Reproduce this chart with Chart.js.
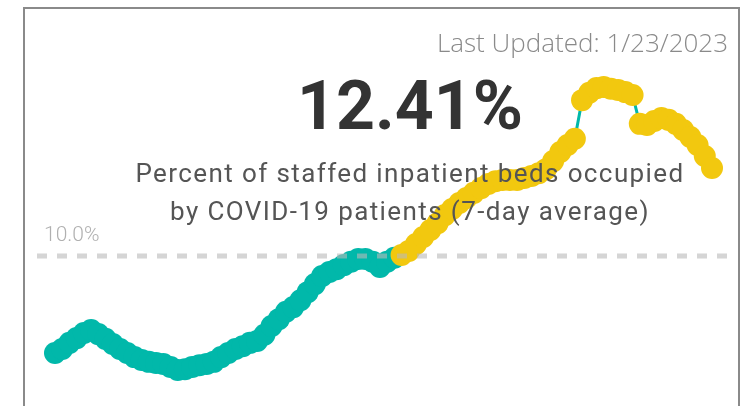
<!DOCTYPE html>
<html>
<head>
<meta charset="utf-8">
<script src="https://cdn.jsdelivr.net/npm/chart.js@4.4.1/dist/chart.umd.min.js"></script>
<style>
  html, body { margin: 0; padding: 0; background: #fff; width: 749px; height: 406px; overflow: hidden; }
  #wrap { position: relative; width: 749px; height: 406px; }
  #frame { position: absolute; left: 23px; top: 7px; width: 717px; height: 460px; border: 2px solid #8a8a8a; box-sizing: border-box; }
  canvas { position: absolute; left: 0; top: 0; }
  .t { position: absolute; white-space: nowrap; line-height: 1; }
  #updated { right: 21px; top: 29px; font-family: "Open Sans", sans-serif; font-weight: 300; font-size: 26px; color: #8a8a8a; }
  #kpi { left: 0; width: 820px; text-align: center; top: 72px; font-family: Roboto, sans-serif; font-weight: 700; font-size: 68px; color: #333333; }
  .sub { left: 0; width: 820px; text-align: center; font-family: Roboto, sans-serif; font-weight: 400; font-size: 26px; letter-spacing: 1.4px; color: #555555; }
  #sub1 { top: 160px; }
  #sub2 { top: 198px; }
  #ref { left: 44px; top: 224px; font-family: Roboto, sans-serif; font-weight: 300; font-size: 21px; color: #b0b0b0; }
</style>
</head>
<body>
<div id="wrap">
  <div id="frame"></div>
  <canvas id="c" width="749" height="406"></canvas>
  <div class="t" id="updated">Last Updated: 1/23/2023</div>
  <div class="t" id="kpi">12.41%</div>
  <div class="t sub" id="sub1">Percent of staffed inpatient beds occupied</div>
  <div class="t sub" id="sub2">by COVID-19 patients (7-day average)</div>
  <div class="t" id="ref">10.0%</div>
</div>
<script>
// ---- data ----
const END_DATE = "2023-01-23";
const REF_VALUE = 10.0;
const occupancyPct = [
  7.34, 7.45, 7.62, 7.75, 7.89, 7.97, 7.86, 7.73, 7.59, 7.45,
  7.34, 7.23, 7.15, 7.10, 7.07, 7.04, 6.96, 6.88, 6.90, 6.96,
  7.01, 7.04, 7.10, 7.23, 7.34, 7.45, 7.53, 7.62, 7.67, 7.84,
  8.08, 8.27, 8.47, 8.60, 8.79, 9.01, 9.23, 9.45, 9.56, 9.64,
  9.75, 9.84, 9.92, 9.92, 9.84, 9.70, 9.84, 9.95, 10.03, 10.14,
  10.33, 10.52, 10.71, 10.90, 11.12, 11.29, 11.45, 11.59, 11.73, 11.86,
  11.97, 12.05, 12.08, 12.08, 12.08, 12.14, 12.19, 12.27, 12.38, 12.60,
  12.85, 13.04, 13.21, 14.27, 14.47, 14.60, 14.63, 14.58, 14.55, 14.49,
  14.41, 13.62, 13.59, 13.70, 13.78, 13.73, 13.62, 13.45, 13.26, 13.04,
  12.74, 12.41
];
// daily categories ending on the last update date
const dates = [];
(function () {
  const end = new Date(END_DATE + "T00:00:00");
  for (let i = occupancyPct.length - 1; i >= 0; i--) {
    const d = new Date(end);
    d.setDate(end.getDate() - i);
    dates.push((d.getMonth() + 1) + "/" + d.getDate() + "/" + d.getFullYear());
  }
})();

// ---- styles ----
const TEAL = "#01B8AA";
const YELLOW = "#F2C80F";

const refLine = {
  id: "refLine",
  afterDatasetsDraw(chart) {
    const y = chart.scales.y.getPixelForValue(REF_VALUE);
    const ctx = chart.ctx;
    ctx.save();
    ctx.setLineDash([10, 10]);
    ctx.lineWidth = 5;
    ctx.strokeStyle = "rgba(185,185,185,0.6)";
    ctx.beginPath();
    ctx.moveTo(37, y);
    ctx.lineTo(727, y);
    ctx.stroke();
    ctx.restore();
  }
};

new Chart(document.getElementById("c"), {
  type: "line",
  data: {
    labels: dates,
    datasets: [{
      data: occupancyPct,
      borderColor: TEAL,
      borderWidth: 3,
      tension: 0,
      pointRadius: 11,
      pointHoverRadius: 11,
      pointBorderWidth: 0,
      pointBackgroundColor: (c) => (c.raw > REF_VALUE ? YELLOW : TEAL),
      clip: false
    }]
  },
  options: {
    responsive: false,
    devicePixelRatio: 1,
    animation: false,
    events: [],
    layout: { autoPadding: false, padding: { left: 55, right: 37, top: 0, bottom: 0 } },
    plugins: { legend: { display: false }, tooltip: { enabled: false } },
    scales: {
      x: { display: false, offset: false },
      y: { display: false, min: 5.8904, max: 17.0137 }
    }
  },
  plugins: [refLine]
});
</script>
</body>
</html>
